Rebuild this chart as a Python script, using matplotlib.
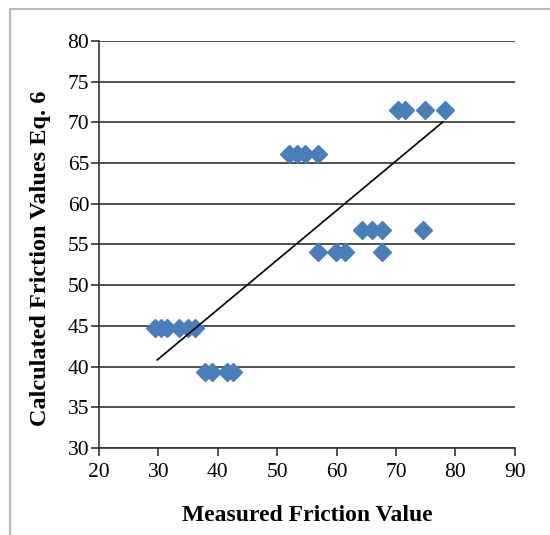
import numpy as np
import matplotlib
matplotlib.use("Agg")
import matplotlib.pyplot as plt
from matplotlib.patches import Rectangle

# 測定値と計算値 (Eq. 6)
measured = [29.5, 30.5, 31.5, 33.5, 35.0, 36.2,
            37.8, 39.0, 41.5, 42.5,
            52.0, 53.3, 54.7, 56.9,
            56.9, 59.9, 61.4, 67.6,
            64.3, 66.0, 67.6, 74.5,
            70.3, 71.5, 74.9, 78.3]
calculated = [44.8, 44.8, 44.8, 44.8, 44.8, 44.8,
              39.3, 39.3, 39.3, 39.3,
              66.1, 66.1, 66.1, 66.1,
              54.1, 54.1, 54.1, 54.1,
              56.8, 56.8, 56.8, 56.8,
              71.5, 71.5, 71.5, 71.5]

# トレンドライン
trend_slope = 0.608
trend_intercept = 22.7
trend_x = [29.8, 77.9]

x_ticks = [20, 30, 40, 50, 60, 70, 80, 90]
y_ticks = [30, 35, 40, 45, 50, 55, 60, 65, 70, 75, 80]

plt.rcParams['font.family'] = ['Liberation Serif', 'DejaVu Serif']

fig = plt.figure(figsize=(5.5, 5.35), dpi=100)
ax = fig.add_axes([0.18, 0.1626, 0.756, 0.7608])

# 外枠
fig.patches.append(Rectangle((10/550, -0.01), 1.0, 1 - 9/535 + 0.01,
                             transform=fig.transFigure, fill=False,
                             edgecolor="#b8b8b8", linewidth=1.5))

ax.plot(measured, calculated, linestyle="none", marker="D",
        markersize=9, color="#4a7ebb", zorder=3)

tx = np.array(trend_x)
ax.plot(tx, trend_intercept + trend_slope*tx, color="black", linewidth=1.2, zorder=4)

ax.set_xlim(20, 90)
ax.set_ylim(30, 80)
ax.set_xticks(x_ticks)
ax.set_yticks(y_ticks)
ax.yaxis.grid(True, color="#333333", linewidth=1.2)
ax.set_axisbelow(True)
for s in ["top", "right"]:
    ax.spines[s].set_visible(False)
for s in ["left", "bottom"]:
    ax.spines[s].set_color("#333333")
    ax.spines[s].set_linewidth(1.2)
ax.tick_params(direction="out", length=6, width=1.2, color="#333333",
               labelsize=15.5)
ax.tick_params(axis="x", pad=5)
ax.tick_params(axis="y", pad=1)

ax.set_xlabel("Measured Friction Value", fontsize=17, fontweight="bold")
ax.set_ylabel("Calculated Friction Values Eq. 6", fontsize=17.5, fontweight="bold")
ax.xaxis.set_label_coords(0.5, -0.14)
ax.yaxis.set_label_coords(-0.115, 0.467)

fig.savefig("out.png", dpi=100)
